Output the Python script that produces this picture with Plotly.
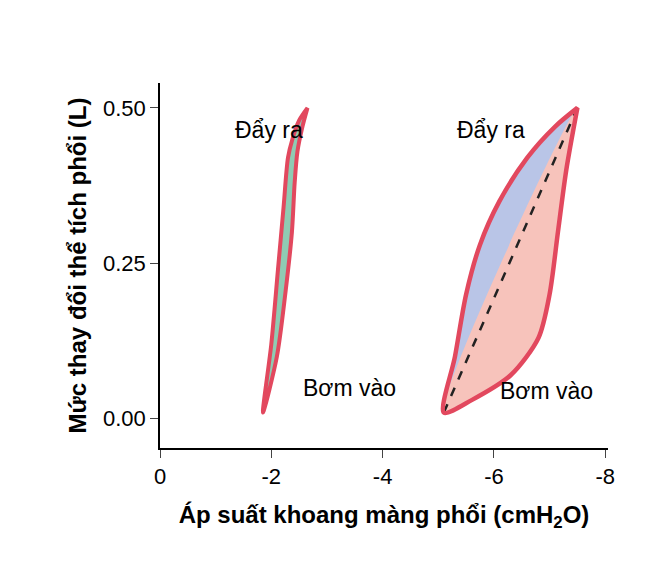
import plotly.graph_objects as go

# saline-filled lung loop
sal_out_x = [-1.85, -2.0, -2.12, -2.22, -2.3, -2.38, -2.5, -2.65]
sal_out_y = [0.01, 0.12, 0.24, 0.34, 0.42, 0.45, 0.48, 0.50]
sal_in_x = [-1.85, -2.1, -2.25, -2.37, -2.42, -2.47, -2.56, -2.65]
sal_in_y = [0.01, 0.10, 0.20, 0.30, 0.38, 0.43, 0.47, 0.50]

# air-filled lung loop
air_out_x = [-5.1, -5.3, -5.5, -5.75, -6.1, -6.6, -7.1, -7.5]
air_out_y = [0.01, 0.10, 0.20, 0.28, 0.35, 0.42, 0.47, 0.50]
air_in_x = [-5.1, -5.6, -6.3, -6.8, -7.0, -7.15, -7.3, -7.5]
air_in_y = [0.01, 0.03, 0.07, 0.13, 0.20, 0.30, 0.40, 0.50]

x_ticks = [0, -2, -4, -6, -8]
x_labels = ["0", "-2", "-4", "-6", "-8"]

red = "#e2485e"
sp = dict(shape="spline", smoothing=0.8)
fig = go.Figure()

fig.add_trace(go.Scatter(x=sal_out_x + sal_in_x[::-1], y=sal_out_y + sal_in_y[::-1],
                         fill="toself", fillcolor="#8fcbb3", mode="lines",
                         line=dict(color=red, width=4, **sp)))
fig.add_trace(go.Scatter(x=air_out_x + [air_out_x[0]], y=air_out_y + [air_out_y[0]],
                         fill="toself", fillcolor="#b9c5e7", mode="lines",
                         line=dict(width=0, color="rgba(0,0,0,0)", **sp)))
fig.add_trace(go.Scatter(x=air_in_x + [air_in_x[0]], y=air_in_y + [air_in_y[0]],
                         fill="toself", fillcolor="#f7c3bb", mode="lines",
                         line=dict(width=0, color="rgba(0,0,0,0)", **sp)))
fig.add_trace(go.Scatter(x=[air_out_x[0], air_out_x[-1]], y=[air_out_y[0], air_out_y[-1]],
                         mode="lines", line=dict(color="#222", width=2.5, dash="dash")))
fig.add_trace(go.Scatter(x=air_out_x + air_in_x[::-1], y=air_out_y + air_in_y[::-1],
                         mode="lines", line=dict(color=red, width=4.5, **sp)))

font = "Liberation Sans, Arial, sans-serif"
for x, y, t in [(-2.7, 0.595, "<b>Bơm bằng</b><br><b>nước muối</b>"),
                (-6.55, 0.595, "<b>Bơm bằng</b><br><b>không khí</b>"),
                (-1.95, 0.465, "Đẩy ra"),
                (-5.95, 0.465, "Đẩy ra"),
                (-3.4, 0.05, "Bơm vào"),
                (-6.95, 0.045, "Bơm vào")]:
    fig.add_annotation(x=x, y=y, text=t, showarrow=False,
                       font=dict(size=23, color="black", family=font), xanchor="center")

fig.update_layout(
    width=668, height=570, showlegend=False,
    plot_bgcolor="white", paper_bgcolor="white",
    margin=dict(l=152, r=68, t=75, b=130),
    font=dict(family=font, size=22, color="black"),
)
fig.update_xaxes(range=[0, -8.05], tickvals=x_ticks, ticktext=x_labels,
                 showline=True, linecolor="black", linewidth=1.5,
                 ticks="outside", ticklen=8, showgrid=False, zeroline=False,
                 title=dict(text="<b>Áp suất khoang màng phổi (cmH<sub>2</sub>O)</b>",
                            font=dict(size=24), standoff=18))
fig.update_yaxes(range=[-0.047, 0.54], tickvals=[0, 0.25, 0.5], tickformat=".2f",
                 showline=True, linecolor="black", linewidth=1.5,
                 ticks="outside", ticklen=8, showgrid=False, zeroline=False,
                 title=dict(text="<b>Mức thay đổi thể tích phổi (L)</b>",
                            font=dict(size=24), standoff=10))
fig.write_html("out.html")
